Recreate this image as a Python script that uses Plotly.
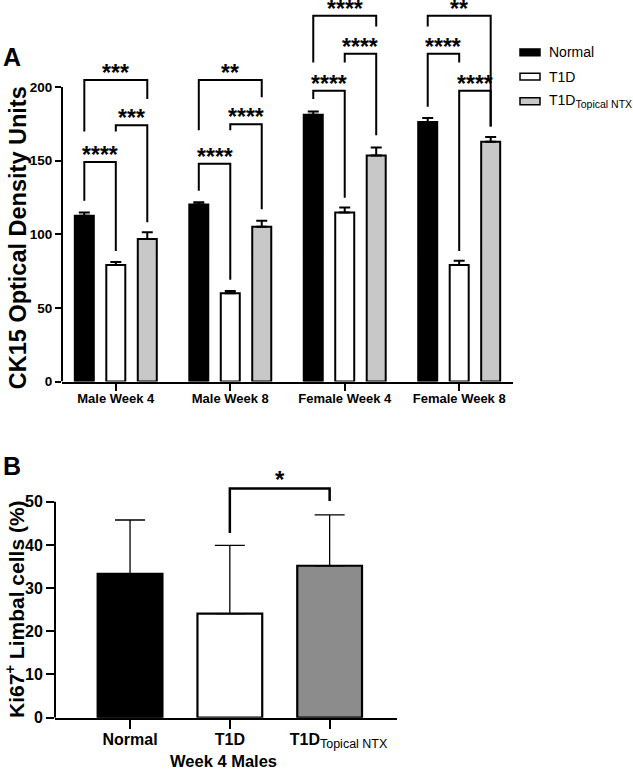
import plotly.graph_objects as go

# ---------------- Panel A data ----------------
groups = ["Male Week 4", "Male Week 8", "Female Week 4", "Female Week 8"]
series_names = ["Normal", "T1D", "T1D<sub>Topical NTX</sub>"]
normal_vals = [112.5, 120.3, 181.2, 176.3]
normal_err = [2.3, 1.4, 2.2, 2.7]
t1d_vals = [79.2, 59.9, 114.8, 79.2]
t1d_err = [2.0, 1.6, 3.3, 2.8]
ntx_vals = [96.8, 105.1, 153.4, 162.8]
ntx_err = [4.5, 4.0, 5.6, 3.2]
a_yticks = [0, 50, 100, 150, 200]

# significance brackets: (group, bar_i, bar_j, level, left_end, right_end, label)
a_brackets = [
    (0, 0, 1, 149.0, 122.8, 88.6, "****"),
    (0, 1, 2, 174.0, 169.8, 108.1, "***"),
    (0, 0, 2, 204.7, 169.8, 191.9, "***"),
    (1, 0, 1, 147.9, 129.5, 69.1, "****"),
    (1, 1, 2, 174.7, 170.7, 117.0, "****"),
    (1, 0, 2, 204.7, 170.7, 193.1, "**"),
    (2, 0, 2, 248.3, 216.6, 241.1, "****"),
    (2, 1, 2, 222.6, 216.6, 167.3, "****"),
    (2, 0, 1, 197.5, 191.9, 124.8, "****"),
    (3, 0, 2, 248.3, 241.1, 173.2, "**"),
    (3, 0, 1, 222.6, 186.6, 216.6, "****"),
    (3, 1, 2, 197.5, 88.6, 173.2, "****"),
]

# ---------------- Panel B data ----------------
b_categories = ["Normal", "T1D", "T1D<sub>Topical NTX</sub>"]
b_vals = [33.3, 24.1, 35.2]
b_err = [12.5, 15.8, 11.8]
b_yticks = [0, 10, 20, 30, 40, 50]
b_brackets = [(1, 2, 53.1, 42.8, 50.2, "*")]

W, H = 633, 783
FONT = "Liberation Sans, Arial, sans-serif"


def px(x):
    return x / W


def py(y):
    return 1 - y / H


a_colors = ["black", "white", "#c8c8c8"]
b_colors = ["black", "white", "#8c8c8c"]
offsets = [-0.275, 0.0, 0.275]
a_series = [(normal_vals, normal_err), (t1d_vals, t1d_err), (ntx_vals, ntx_err)]
legend_labels = ["Normal", "T1D", 'T1D<sub><span style="font-size:10.5px">Topical NTX</span></sub>']

fig = go.Figure()

for k, (vals, errs) in enumerate(a_series):
    fig.add_trace(go.Bar(
        x=[g + offsets[k] for g in range(len(groups))], y=vals, width=0.166,
        marker=dict(color=a_colors[k], line=dict(color="black", width=2)),
        error_y=dict(type="data", array=errs, arrayminus=[0] * len(errs), symmetric=False,
                     color="black", thickness=2, width=5.5),
        name=series_names[k], showlegend=False, xaxis="x", yaxis="y",
    ))

fig.add_trace(go.Bar(
    x=list(range(len(b_categories))), y=b_vals, width=0.649,
    marker=dict(color=b_colors, line=dict(color="black", width=2.2)),
    error_y=dict(type="data", array=b_err, arrayminus=[0] * len(b_err), symmetric=False,
                 color="black", thickness=1.3, width=15),
    showlegend=False, xaxis="x2", yaxis="y2",
))

shapes = []
annotations = []

# panel A brackets
for g, i, j, lvl, yl, yr, lab in a_brackets:
    x0 = g + offsets[i]
    x1 = g + offsets[j]
    shapes.append(dict(type="path", xref="x", yref="y",
                       path=f"M {x0},{yl} L {x0},{lvl} L {x1},{lvl} L {x1},{yr}",
                       line=dict(color="black", width=2)))
    annotations.append(dict(x=(x0 + x1) / 2, y=lvl, xref="x", yref="y", text=lab,
                            showarrow=False, xanchor="center", yanchor="bottom", yshift=-8,
                            font=dict(family=FONT, size=23, color="black", weight="bold")))

# panel B brackets
for i, j, lvl, yl, yr, lab in b_brackets:
    shapes.append(dict(type="path", xref="x2", yref="y2",
                       path=f"M {i},{yl} L {i},{lvl} L {j},{lvl} L {j},{yr}",
                       line=dict(color="black", width=2.5)))
    annotations.append(dict(x=(i + j) / 2, y=lvl, xref="x2", yref="y2", text=lab,
                            showarrow=False, xanchor="center", yanchor="bottom", yshift=-7,
                            font=dict(family=FONT, size=24, color="black", weight="bold")))

# y axis lines (only up to top tick)
shapes.append(dict(type="line", xref="x domain", yref="y", x0=0, x1=0, y0=0, y1=a_yticks[-1],
                   line=dict(color="black", width=2)))
shapes.append(dict(type="line", xref="x2 domain", yref="y2", x0=0, x1=0, y0=0, y1=b_yticks[-1],
                   line=dict(color="black", width=2)))

# manual legend
leg_y = [53, 77.5, 102.5]
for k in range(3):
    shapes.append(dict(type="rect", xref="paper", yref="paper",
                       x0=px(520), x1=px(540), y0=py(leg_y[k] + 3.5), y1=py(leg_y[k] - 3.5),
                       fillcolor=a_colors[k], line=dict(color="black", width=1.5)))
    annotations.append(dict(x=px(547), y=py(leg_y[k]), xref="paper", yref="paper",
                            text=legend_labels[k], showarrow=False, xanchor="left", yanchor="middle",
                            font=dict(family=FONT, size=14, color="black")))

# titles and panel letters
title_font = dict(family=FONT, color="black")
annotations += [
    dict(x=px(18), y=py(241), text="<b>CK15 Optical Density Units</b>", textangle=-90,
         font=dict(size=23.5, **title_font)),
    dict(x=px(15), y=py(617), text="<b>Ki67<sup>+</sup> Limbal cells (%)</b>", textangle=-90,
         font=dict(size=21, **title_font)),
    dict(x=px(223.5), y=py(770), text="<b>Week 4 Males</b>", font=dict(size=16.5, **title_font)),
    dict(x=px(12), y=py(58), text="<b>A</b>", font=dict(size=25, **title_font)),
    dict(x=px(12), y=py(471), text="<b>B</b>", font=dict(size=25, **title_font)),
]
for a in annotations[-5:]:
    a.update(xref="paper", yref="paper", showarrow=False, xanchor="center", yanchor="middle")

axis_common = dict(showgrid=False, zeroline=False, ticks="outside", tickcolor="black",
                   tickwidth=2, color="black")

NB = "\u00a0"
fig.update_layout(
    width=W, height=H, margin=dict(l=0, r=0, t=0, b=0),
    paper_bgcolor="white", plot_bgcolor="white", barmode="overlay",
    font=dict(family=FONT, color="black"),
    shapes=shapes, annotations=annotations, showlegend=False,
    xaxis=dict(domain=[px(62), px(513)], range=[-0.47, 3.47], anchor="y",
               tickvals=list(range(len(groups))), ticktext=[f"<b>{g}</b>" for g in groups],
               showline=True, linecolor="black", linewidth=2, ticklen=7, ticklabelstandoff=-3,
               tickfont=dict(family=FONT, size=13, color="black"), **axis_common),
    yaxis=dict(domain=[py(386), 1], range=[0, 386 / 1.49], anchor="x",
               tickvals=a_yticks, ticktext=[f"<b>{v}</b>" for v in a_yticks],
               showline=False, ticklen=6,
               tickfont=dict(family=FONT, size=13.5, color="black"), **axis_common),
    xaxis2=dict(domain=[px(55), px(397)], range=[-0.752, 2.675], anchor="y2",
                tickvals=list(range(len(b_categories))),
                ticktext=["<b>Normal</b>", "<b>T1D</b>",
                          f'<b>{NB * 4}T1D</b><sub><span style="font-size:12.5px">Topical NTX</span></sub>'],
                showline=True, linecolor="black", linewidth=2, ticklen=9, ticklabelstandoff=-3,
                tickfont=dict(family=FONT, size=16, color="black"), **axis_common),
    yaxis2=dict(domain=[py(726), py(464)], range=[0, 262 / 4.366], anchor="x2",
                tickvals=b_yticks, ticktext=[f"<b>{v}</b>" for v in b_yticks],
                showline=False, ticklen=8,
                tickfont=dict(family=FONT, size=16, color="black"), **axis_common),
)

fig.write_html("out.html", config={"displayModeBar": False},
               post_script="document.body.style.margin='0px';")
